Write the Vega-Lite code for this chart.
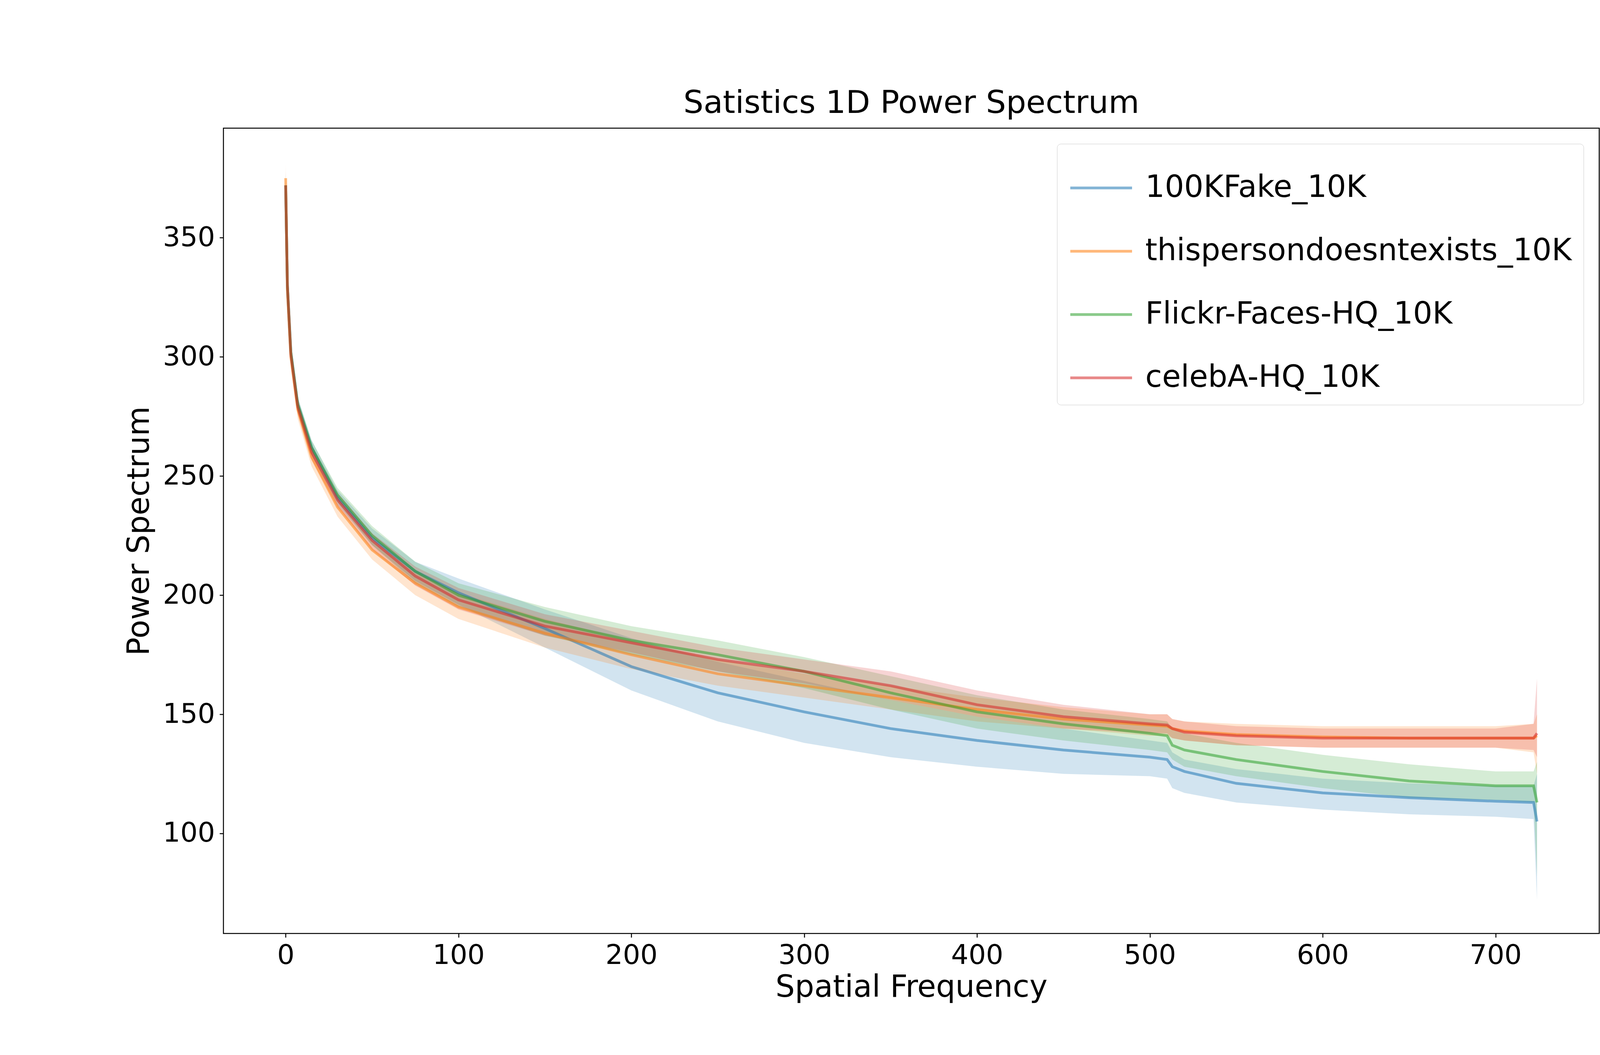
{
  "$schema": "https://vega.github.io/schema/vega-lite/v6.json",
  "width": 3522,
  "height": 2061,
  "autosize": {"type": "none"},
  "padding": {"left": 572, "top": 328, "right": 406, "bottom": 311},
  "background": "white",
  "config": {
    "font": "DejaVu Sans",
    "view": {"stroke": "black", "strokeWidth": 2.5},
    "axis": {"grid": false, "domain": false, "tickColor": "black", "tickWidth": 2.5, "tickSize": 10,
      "labelFontSize": 70, "labelColor": "black", "titleFontSize": 78, "titleFontWeight": "normal", "titleColor": "black", "labelPadding": 12}
  },
  "title": {"text": "Satistics 1D Power Spectrum", "fontSize": 81, "fontWeight": "normal", "offset": 22, "color": "black"},
  "data": {"values": [
    {"s":"100KFake_10K","x":0,"m":372,"lo":365,"hi":378},
    {"s":"100KFake_10K","x":1,"m":330,"lo":325,"hi":335},
    {"s":"100KFake_10K","x":3,"m":302,"lo":298,"hi":306},
    {"s":"100KFake_10K","x":7,"m":280,"lo":277,"hi":283},
    {"s":"100KFake_10K","x":15,"m":262,"lo":259,"hi":265},
    {"s":"100KFake_10K","x":30,"m":241,"lo":238,"hi":244},
    {"s":"100KFake_10K","x":50,"m":224,"lo":221,"hi":228},
    {"s":"100KFake_10K","x":75,"m":210,"lo":206,"hi":214},
    {"s":"100KFake_10K","x":100,"m":201,"lo":196,"hi":207},
    {"s":"100KFake_10K","x":150,"m":186,"lo":178,"hi":194},
    {"s":"100KFake_10K","x":200,"m":170,"lo":160,"hi":182},
    {"s":"100KFake_10K","x":250,"m":159,"lo":147,"hi":172},
    {"s":"100KFake_10K","x":300,"m":151,"lo":138,"hi":164},
    {"s":"100KFake_10K","x":350,"m":144,"lo":132,"hi":156},
    {"s":"100KFake_10K","x":400,"m":139,"lo":128,"hi":149},
    {"s":"100KFake_10K","x":450,"m":135,"lo":125,"hi":144},
    {"s":"100KFake_10K","x":500,"m":132,"lo":124,"hi":139},
    {"s":"100KFake_10K","x":510,"m":131,"lo":123,"hi":138},
    {"s":"100KFake_10K","x":513,"m":128,"lo":119,"hi":134},
    {"s":"100KFake_10K","x":520,"m":126,"lo":117,"hi":131},
    {"s":"100KFake_10K","x":550,"m":121,"lo":113,"hi":127},
    {"s":"100KFake_10K","x":600,"m":117,"lo":110,"hi":123},
    {"s":"100KFake_10K","x":650,"m":115,"lo":108,"hi":121},
    {"s":"100KFake_10K","x":700,"m":113.5,"lo":107,"hi":120},
    {"s":"100KFake_10K","x":722,"m":113,"lo":106,"hi":120},
    {"s":"100KFake_10K","x":724,"m":105,"lo":72,"hi":125},
    {"s":"thispersondoesntexists_10K","x":0,"m":375,"lo":370,"hi":381},
    {"s":"thispersondoesntexists_10K","x":1,"m":328,"lo":322,"hi":334},
    {"s":"thispersondoesntexists_10K","x":3,"m":300,"lo":295,"hi":304},
    {"s":"thispersondoesntexists_10K","x":7,"m":278,"lo":274,"hi":282},
    {"s":"thispersondoesntexists_10K","x":15,"m":258,"lo":254,"hi":262},
    {"s":"thispersondoesntexists_10K","x":30,"m":237,"lo":233,"hi":241},
    {"s":"thispersondoesntexists_10K","x":50,"m":219,"lo":215,"hi":223},
    {"s":"thispersondoesntexists_10K","x":75,"m":205,"lo":200,"hi":210},
    {"s":"thispersondoesntexists_10K","x":100,"m":195,"lo":190,"hi":201},
    {"s":"thispersondoesntexists_10K","x":150,"m":184,"lo":178,"hi":190},
    {"s":"thispersondoesntexists_10K","x":200,"m":175,"lo":169,"hi":181},
    {"s":"thispersondoesntexists_10K","x":250,"m":167,"lo":162,"hi":173},
    {"s":"thispersondoesntexists_10K","x":300,"m":162,"lo":157,"hi":167},
    {"s":"thispersondoesntexists_10K","x":350,"m":157,"lo":152,"hi":162},
    {"s":"thispersondoesntexists_10K","x":400,"m":152,"lo":147,"hi":157},
    {"s":"thispersondoesntexists_10K","x":450,"m":148,"lo":144,"hi":153},
    {"s":"thispersondoesntexists_10K","x":500,"m":145.5,"lo":141,"hi":150},
    {"s":"thispersondoesntexists_10K","x":510,"m":145,"lo":141,"hi":150},
    {"s":"thispersondoesntexists_10K","x":513,"m":144,"lo":140,"hi":148},
    {"s":"thispersondoesntexists_10K","x":520,"m":143,"lo":139,"hi":147},
    {"s":"thispersondoesntexists_10K","x":550,"m":141.5,"lo":137,"hi":146},
    {"s":"thispersondoesntexists_10K","x":600,"m":140.5,"lo":136,"hi":145},
    {"s":"thispersondoesntexists_10K","x":650,"m":140,"lo":136,"hi":145},
    {"s":"thispersondoesntexists_10K","x":700,"m":140,"lo":136,"hi":145},
    {"s":"thispersondoesntexists_10K","x":722,"m":140,"lo":134,"hi":146},
    {"s":"thispersondoesntexists_10K","x":724,"m":141,"lo":125,"hi":150},
    {"s":"Flickr-Faces-HQ_10K","x":0,"m":372,"lo":368,"hi":377},
    {"s":"Flickr-Faces-HQ_10K","x":1,"m":330,"lo":326,"hi":334},
    {"s":"Flickr-Faces-HQ_10K","x":3,"m":302,"lo":298,"hi":305},
    {"s":"Flickr-Faces-HQ_10K","x":7,"m":280,"lo":277,"hi":283},
    {"s":"Flickr-Faces-HQ_10K","x":15,"m":262,"lo":259,"hi":265},
    {"s":"Flickr-Faces-HQ_10K","x":30,"m":242,"lo":239,"hi":245},
    {"s":"Flickr-Faces-HQ_10K","x":50,"m":225,"lo":221,"hi":229},
    {"s":"Flickr-Faces-HQ_10K","x":75,"m":210,"lo":205,"hi":214},
    {"s":"Flickr-Faces-HQ_10K","x":100,"m":200,"lo":195,"hi":205},
    {"s":"Flickr-Faces-HQ_10K","x":150,"m":189,"lo":183,"hi":195},
    {"s":"Flickr-Faces-HQ_10K","x":200,"m":181,"lo":175,"hi":187},
    {"s":"Flickr-Faces-HQ_10K","x":250,"m":175,"lo":168,"hi":181},
    {"s":"Flickr-Faces-HQ_10K","x":300,"m":168,"lo":161,"hi":174},
    {"s":"Flickr-Faces-HQ_10K","x":350,"m":159,"lo":152,"hi":166},
    {"s":"Flickr-Faces-HQ_10K","x":400,"m":151,"lo":144,"hi":158},
    {"s":"Flickr-Faces-HQ_10K","x":450,"m":146,"lo":139,"hi":152},
    {"s":"Flickr-Faces-HQ_10K","x":500,"m":142,"lo":135,"hi":148},
    {"s":"Flickr-Faces-HQ_10K","x":510,"m":141,"lo":134,"hi":147},
    {"s":"Flickr-Faces-HQ_10K","x":513,"m":137,"lo":131,"hi":144},
    {"s":"Flickr-Faces-HQ_10K","x":520,"m":135,"lo":128,"hi":142},
    {"s":"Flickr-Faces-HQ_10K","x":550,"m":131,"lo":124,"hi":138},
    {"s":"Flickr-Faces-HQ_10K","x":600,"m":126,"lo":119,"hi":133},
    {"s":"Flickr-Faces-HQ_10K","x":650,"m":122,"lo":115,"hi":129},
    {"s":"Flickr-Faces-HQ_10K","x":700,"m":120,"lo":114,"hi":126},
    {"s":"Flickr-Faces-HQ_10K","x":722,"m":120,"lo":113,"hi":126},
    {"s":"Flickr-Faces-HQ_10K","x":724,"m":113,"lo":82,"hi":130},
    {"s":"celebA-HQ_10K","x":0,"m":372,"lo":368,"hi":376},
    {"s":"celebA-HQ_10K","x":1,"m":330,"lo":326,"hi":334},
    {"s":"celebA-HQ_10K","x":3,"m":301,"lo":298,"hi":305},
    {"s":"celebA-HQ_10K","x":7,"m":279,"lo":276,"hi":282},
    {"s":"celebA-HQ_10K","x":15,"m":260,"lo":257,"hi":263},
    {"s":"celebA-HQ_10K","x":30,"m":240,"lo":237,"hi":243},
    {"s":"celebA-HQ_10K","x":50,"m":223,"lo":219,"hi":226},
    {"s":"celebA-HQ_10K","x":75,"m":208,"lo":204,"hi":212},
    {"s":"celebA-HQ_10K","x":100,"m":198,"lo":194,"hi":203},
    {"s":"celebA-HQ_10K","x":150,"m":187,"lo":183,"hi":192},
    {"s":"celebA-HQ_10K","x":200,"m":180,"lo":176,"hi":185},
    {"s":"celebA-HQ_10K","x":250,"m":173,"lo":168,"hi":178},
    {"s":"celebA-HQ_10K","x":300,"m":168,"lo":163,"hi":173},
    {"s":"celebA-HQ_10K","x":350,"m":162,"lo":156,"hi":168},
    {"s":"celebA-HQ_10K","x":400,"m":154,"lo":149,"hi":160},
    {"s":"celebA-HQ_10K","x":450,"m":149,"lo":144,"hi":154},
    {"s":"celebA-HQ_10K","x":500,"m":146,"lo":142,"hi":150},
    {"s":"celebA-HQ_10K","x":510,"m":145.5,"lo":142,"hi":150},
    {"s":"celebA-HQ_10K","x":513,"m":144,"lo":140,"hi":148},
    {"s":"celebA-HQ_10K","x":520,"m":142.5,"lo":139,"hi":147},
    {"s":"celebA-HQ_10K","x":550,"m":141,"lo":137,"hi":145},
    {"s":"celebA-HQ_10K","x":600,"m":140,"lo":136,"hi":144},
    {"s":"celebA-HQ_10K","x":650,"m":140,"lo":136,"hi":144},
    {"s":"celebA-HQ_10K","x":700,"m":140,"lo":136,"hi":144},
    {"s":"celebA-HQ_10K","x":722,"m":140,"lo":135,"hi":146},
    {"s":"celebA-HQ_10K","x":724,"m":142,"lo":132,"hi":165}
  ]},
  "encoding": {
    "x": {"field": "x", "type": "quantitative", "title": "Spatial Frequency",
      "scale": {"domain": [-36, 760], "nice": false, "zero": false},
      "axis": {"values": [0, 100, 200, 300, 400, 500, 600, 700], "titlePadding": 8}},
    "color": {"field": "s", "type": "nominal", "title": null,
      "scale": {"domain": ["100KFake_10K", "thispersondoesntexists_10K", "Flickr-Faces-HQ_10K", "celebA-HQ_10K"],
        "range": ["#1f77b4", "#ff7f0e", "#2ca02c", "#d62728"]},
      "legend": {"orient": "top-right", "offset": 40, "symbolType": "stroke", "symbolSize": 25000,
        "symbolStrokeWidth": 7, "symbolOpacity": 0.55, "labelFontSize": 78, "labelColor": "black", "rowPadding": 40,
        "labelLimit": 0, "padding": 30, "fillColor": "white", "strokeColor": "#cccccc", "cornerRadius": 10, "labelOffset": 30}}
  },
  "layer": [
    {"mark": {"type": "area", "opacity": 0.2},
      "encoding": {
        "y": {"field": "lo", "type": "quantitative", "title": "Power Spectrum",
          "scale": {"domain": [58, 396], "nice": false, "zero": false},
          "axis": {"values": [100, 150, 200, 250, 300, 350], "titlePadding": 20}},
        "y2": {"field": "hi"}
      }},
    {"mark": {"type": "line", "strokeWidth": 7, "opacity": 0.55},
      "encoding": {
        "y": {"field": "m", "type": "quantitative"}
      }}
  ]
}
